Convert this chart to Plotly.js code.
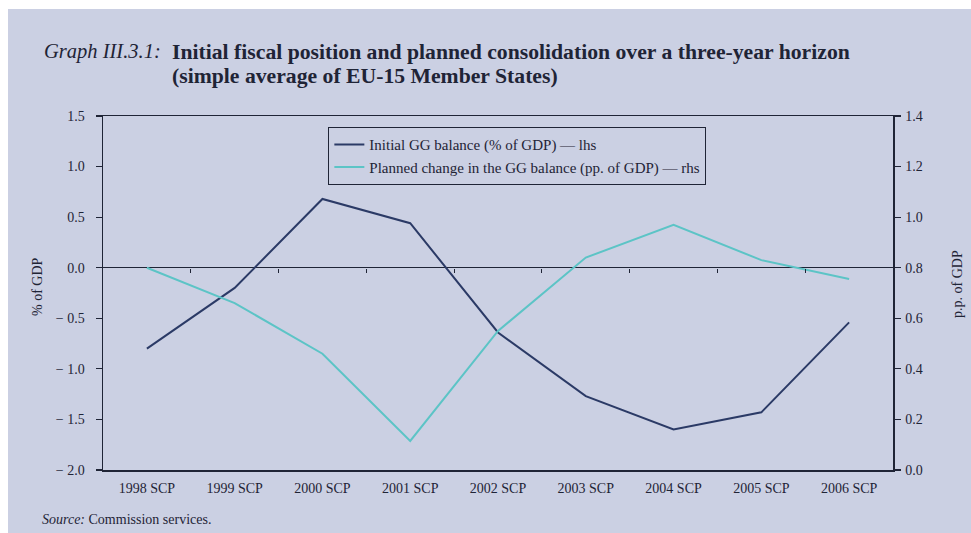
<!DOCTYPE html>
<html>
<head>
<meta charset="utf-8">
<script src="https://cdn.plot.ly/plotly-3.0.1.min.js"></script>
<style>
  html, body { margin: 0; padding: 0; background: #ffffff; width: 971px; height: 533px; overflow: hidden; }
  #chart { position: absolute; left: 8px; top: 9px; width: 963px; height: 524px; }
</style>
</head>
<body>
<div id="chart"></div>
<script>
const categories = ['1998 SCP','1999 SCP','2000 SCP','2001 SCP','2002 SCP','2003 SCP','2004 SCP','2005 SCP','2006 SCP'];
const initialBalance = [-0.80, -0.20, 0.68, 0.44, -0.64, -1.27, -1.60, -1.43, -0.54];
const plannedChange = [0.80, 0.66, 0.46, 0.115, 0.55, 0.84, 0.97, 0.83, 0.755];
const leftTickVals = [1.5, 1.0, 0.5, 0.0, -0.5, -1.0, -1.5, -2.0];
const leftTickText = ['1.5', '1.0', '0.5', '0.0', '\u2212 0.5', '\u2212 1.0', '\u2212 1.5', '\u2212 2.0'];
const rightTickVals = [0.0, 0.2, 0.4, 0.6, 0.8, 1.0, 1.2, 1.4];
const rightTickText = ['0.0', '0.2', '0.4', '0.6', '0.8', '1.0', '1.2', '1.4'];
const seriesNames = ['Initial GG balance (% of GDP) \u2014 lhs', 'Planned change in the GG balance (pp. of GDP) \u2014 rhs'];

const serif = 'Liberation Serif, Times New Roman, serif';
const ink = '#1f2436';
const bg = '#cbd0e3';
const xIdx = categories.map((c, i) => i);
const boundaries = categories.slice(1).map((c, i) => i + 0.5);

const traces = [
  { x: xIdx, y: initialBalance, name: seriesNames[0], type: 'scatter', mode: 'lines',
    line: { color: '#2b3a66', width: 2 }, xaxis: 'x', yaxis: 'y' },
  { x: xIdx, y: plannedChange, name: seriesNames[1], type: 'scatter', mode: 'lines',
    line: { color: '#5cc4c6', width: 2 }, xaxis: 'x', yaxis: 'y2' },
  { x: boundaries, y: boundaries.map(() => 0), type: 'scatter', mode: 'lines', showlegend: false,
    hoverinfo: 'skip', line: { width: 0, color: 'rgba(0,0,0,0)' }, xaxis: 'x2', yaxis: 'y' }
];

const layout = {
  width: 963, height: 524,
  paper_bgcolor: bg, plot_bgcolor: bg,
  margin: { l: 95, r: 78, t: 107, b: 63 },
  font: { family: serif, size: 14, color: ink },
  showlegend: true,
  legend: {
    x: 0.285, y: 0.969, xanchor: 'left', yanchor: 'top',
    bgcolor: bg, bordercolor: ink, borderwidth: 1.2,
    font: { family: serif, size: 15, color: ink },
    tracegroupgap: 2
  },
  xaxis: {
    range: [-0.5, 8.5], tickmode: 'array', tickvals: xIdx, ticktext: categories,
    showgrid: false, zeroline: false, showline: true, linecolor: ink, linewidth: 1.5, mirror: true,
    ticks: '', tickfont: { family: serif, size: 14, color: ink }, ticklabelstandoff: 5, fixedrange: true
  },
  xaxis2: {
    overlaying: 'x', anchor: 'free', position: (2.0 / 3.5), side: 'bottom',
    range: [-0.5, 8.5], tickmode: 'array', tickvals: boundaries, showticklabels: false,
    ticks: 'outside', ticklen: 4, tickcolor: ink, tickwidth: 1,
    showgrid: false, zeroline: false, showline: false
  },
  yaxis: {
    range: [-2.0, 1.5], tickmode: 'array', tickvals: leftTickVals, ticktext: leftTickText,
    showgrid: false, zeroline: true, zerolinecolor: ink, zerolinewidth: 1.2,
    showline: true, linecolor: ink, linewidth: 1.5,
    ticks: 'outside', ticklen: 6, tickcolor: ink, tickwidth: 1.2,
    tickfont: { family: serif, size: 14, color: ink }, ticklabelstandoff: 8
  },
  yaxis2: {
    overlaying: 'y', side: 'right', anchor: 'x',
    range: [0.0, 1.4], tickmode: 'array', tickvals: rightTickVals, ticktext: rightTickText,
    showgrid: false, zeroline: false, showline: true, linecolor: ink, linewidth: 1.5,
    ticks: 'outside', ticklen: 6, tickcolor: ink, tickwidth: 1.2,
    tickfont: { family: serif, size: 14, color: ink }, ticklabelstandoff: 2
  },
  yaxis3: {
    overlaying: 'y', side: 'right', anchor: 'x',
    range: [0.0, 1.4], tickmode: 'array', tickvals: rightTickVals.slice(1, -1), showticklabels: false,
    showgrid: false, zeroline: false, showline: false,
    ticks: 'inside', ticklen: 5, tickcolor: ink, tickwidth: 1.2
  },
  annotations: [
    { xref: 'paper', yref: 'paper', x: (34 - 95) / 790, y: 1 + (107 - 43) / 354, xanchor: 'left', yanchor: 'middle',
      text: '<i>Graph III.3.1:</i>', showarrow: false, font: { family: serif, size: 20.5, color: ink } },
    { xref: 'paper', yref: 'paper', x: (162 - 95) / 790, y: 1 + (107 - 43) / 354, xanchor: 'left', yanchor: 'middle',
      text: '<b>Initial fiscal position and planned consolidation over a three-year horizon</b>', showarrow: false,
      font: { family: serif, size: 21.7, color: ink } },
    { xref: 'paper', yref: 'paper', x: (162 - 95) / 790, y: 1 + (107 - 67) / 354, xanchor: 'left', yanchor: 'middle',
      text: '<b>(simple average of EU-15 Member States)</b>', showarrow: false,
      font: { family: serif, size: 21.7, color: ink } },
    { xref: 'paper', yref: 'paper', x: (29 - 95) / 790, y: (461 - 278) / 354, xanchor: 'center', yanchor: 'middle',
      text: '% of GDP', textangle: -90, showarrow: false, font: { family: serif, size: 14, color: ink } },
    { xref: 'paper', yref: 'paper', x: 1 + (949 - 885) / 790, y: (461 - 275) / 354, xanchor: 'center', yanchor: 'middle',
      text: 'p.p. of GDP', textangle: -90, showarrow: false, font: { family: serif, size: 14, color: ink } },
    { xref: 'paper', yref: 'paper', x: (32 - 95) / 790, y: -(510 - 461) / 354, xanchor: 'left', yanchor: 'middle',
      text: '<i>Source:</i> Commission services.', showarrow: false, font: { family: serif, size: 14, color: ink } }
  ]
};

Plotly.newPlot('chart', traces, layout, { displayModeBar: false, staticPlot: true });
</script>
</body>
</html>
